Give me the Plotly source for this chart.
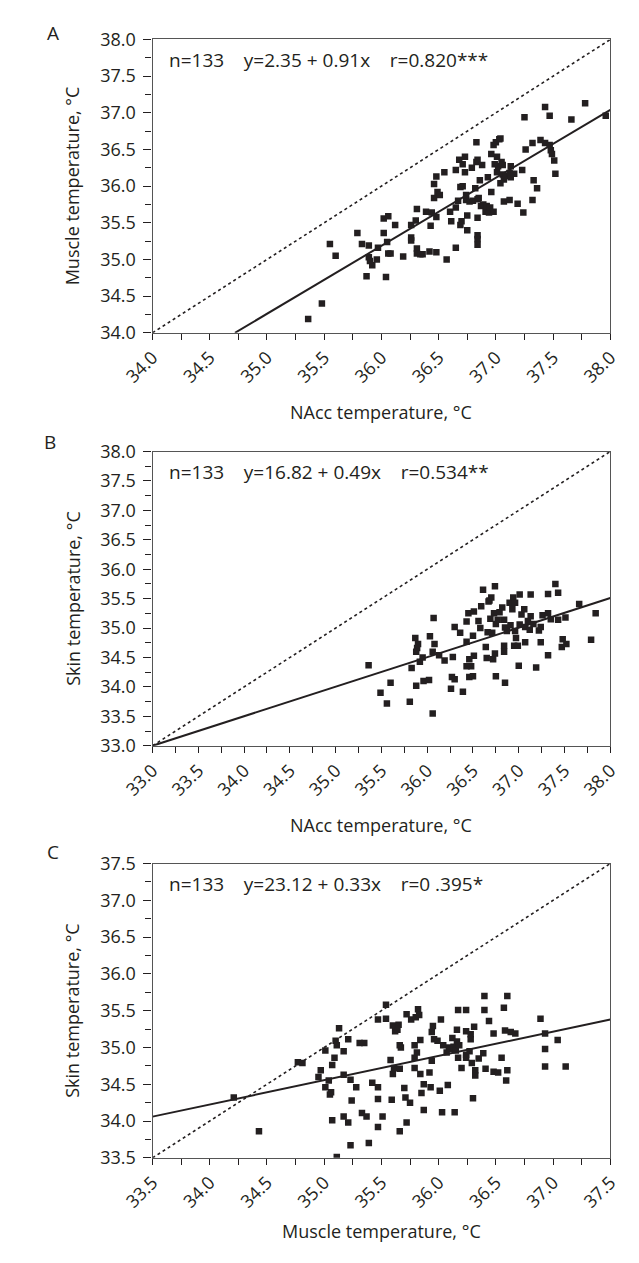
import plotly.graph_objects as go

W, H = 639, 1263
FONT = "Open Sans"
INK = "#231f20"

# ---------------- Panel A : NAcc vs muscle temperature ----------------
a_nacc = [35.36, 35.48, 35.55, 35.60, 35.79, 35.83, 35.89, 35.87, 35.89, 35.90,
          35.92, 35.96, 35.97, 36.02, 36.02, 36.06, 36.05, 36.04, 36.06, 36.08,
          36.12, 36.19, 36.26, 36.26, 36.26, 36.30, 36.31, 36.31, 36.31, 36.34,
          36.36, 36.39, 36.42, 36.43, 36.44, 36.46, 36.46, 36.48, 36.48, 36.48,
          36.49, 36.51, 36.55, 36.57, 36.60, 36.61, 36.65, 36.65, 36.65, 36.67,
          36.68, 36.69, 36.69, 36.70, 36.71, 36.71, 36.73, 36.73, 36.74, 36.74,
          36.75, 36.75, 36.77, 36.79, 36.80, 36.82, 36.83, 36.83, 36.84, 36.84,
          36.84, 36.84, 36.84, 36.84, 36.85, 36.86, 36.87, 36.88, 36.89, 36.91,
          36.92, 36.93, 36.94, 36.95, 36.96, 36.96, 36.98, 36.98, 36.99, 37.00,
          37.01, 37.01, 37.02, 37.03, 37.04, 37.04, 37.05, 37.06, 37.06, 37.07,
          37.07, 37.09, 37.12, 37.12, 37.13, 37.13, 37.16, 37.19, 37.23, 37.24,
          37.25, 37.26, 37.32, 37.32, 37.33, 37.36, 37.39, 37.43, 37.43, 37.47,
          37.47, 37.48, 37.49, 37.51, 37.52, 37.66, 37.78, 37.96]
a_muscle = [34.19, 34.40, 35.21, 35.05, 35.36, 35.21, 35.19, 34.77, 35.03, 34.98,
            34.92, 35.00, 35.16, 35.36, 35.56, 35.59, 35.24, 34.76, 35.08, 35.08,
            35.47, 35.04, 35.47, 35.30, 35.26, 35.53, 35.69, 35.15, 35.08, 35.07,
            35.07, 35.65, 35.11, 35.46, 35.64, 36.03, 35.84, 35.58, 35.10, 36.13,
            35.92, 35.88, 36.19, 35.00, 35.65, 35.52, 35.16, 36.22, 35.71, 35.80,
            36.36, 35.99, 35.47, 35.52, 36.30, 36.00, 36.40, 36.19, 35.81, 35.88,
            35.60, 35.40, 35.79, 36.25, 35.80, 35.97, 36.60, 36.33, 36.36, 35.82,
            35.57, 35.28, 35.20, 35.33, 35.84, 36.08, 35.73, 36.29, 35.75, 35.65,
            35.73, 36.12, 35.64, 35.71, 36.44, 35.92, 35.65, 36.56, 36.30, 36.60,
            36.40, 36.19, 36.27, 36.64, 36.65, 36.04, 36.33, 36.16, 36.29, 36.09,
            35.79, 36.14, 36.18, 35.81, 36.27, 36.12, 36.17, 35.76, 36.22, 35.64,
            36.94, 36.50, 35.81, 36.59, 36.08, 35.97, 36.63, 36.59, 37.08, 36.96,
            36.56, 36.49, 36.44, 36.35, 36.17, 36.91, 37.13, 36.96]
a_fit_x = [34.72, 38.0]
a_fit_y = [34.0, 37.04]
a_range = [34.0, 38.0]
a_stats = "n=133    y=2.35 + 0.91x    r=0.820***"
a_xtitle = "NAcc temperature, °C"
a_ytitle = "Muscle temperature, °C"

# ---------------- Panel B : NAcc vs skin temperature ----------------
b_nacc = [35.36, 35.49, 35.56, 35.60, 35.81, 35.83, 35.87, 35.90, 35.89, 35.88,
          35.92, 35.95, 35.88, 35.96, 36.02, 36.03, 36.06, 36.07, 36.08, 36.06,
          36.13, 36.19, 36.27, 36.28, 36.30, 36.26, 36.30, 36.36, 36.39, 36.43,
          36.43, 36.45, 36.46, 36.48, 36.51, 36.43, 36.46, 36.51, 36.50, 36.50,
          36.56, 36.58, 36.59, 36.61, 36.65, 36.64, 36.66, 36.67, 36.68, 36.70,
          36.69, 36.71, 36.72, 36.73, 36.74, 36.75, 36.74, 36.75, 36.77, 36.79,
          36.82, 36.84, 36.85, 36.84, 36.84, 36.85, 36.87, 36.90, 36.91, 36.93,
          36.94, 36.96, 36.95, 36.96, 36.97, 36.99, 37.00, 37.01, 37.01, 37.03,
          37.06, 37.07, 37.07, 37.10, 37.12, 37.13, 37.13, 37.16, 37.19, 37.22,
          37.24, 37.24, 37.26, 37.32, 37.32, 37.32, 37.35, 37.40, 37.43, 37.43,
          37.47, 37.48, 37.51, 37.52, 37.66, 37.79, 37.84]
b_skin = [34.37, 33.90, 33.72, 34.07, 33.75, 34.32, 34.83, 34.73, 34.66, 34.60,
          34.43, 34.50, 34.02, 34.10, 34.12, 34.86, 34.60, 35.17, 34.73, 33.55,
          34.54, 34.45, 34.17, 34.51, 34.13, 33.97, 35.02, 34.92, 33.92, 35.11,
          34.77, 35.25, 34.17, 34.35, 34.53, 34.35, 34.47, 35.28, 34.18, 34.87,
          35.12, 35.00, 35.37, 35.65, 34.49, 34.68, 34.93, 35.45, 35.47, 35.52,
          35.16, 34.92, 34.47, 35.25, 35.71, 34.18, 34.57, 35.07, 35.14, 35.27,
          35.35, 35.14, 34.07, 34.70, 34.60, 35.01, 34.95, 35.43, 35.05, 35.32,
          35.52, 35.43, 34.70, 34.95, 34.83, 34.70, 34.36, 35.57, 35.06, 35.23,
          35.32, 35.02, 34.76, 35.12, 34.97, 35.57, 35.20, 35.07, 34.33, 34.96,
          34.76, 35.02, 35.22, 35.58, 34.54, 35.25, 35.15, 35.75, 35.60, 35.14,
          34.68, 34.81, 35.18, 34.73, 35.41, 34.80, 35.25]
b_fit_x = [33.0, 38.0]
b_fit_y = [33.0, 35.51]
b_range = [33.0, 38.0]
b_stats = "n=133    y=16.82 + 0.49x    r=0.534**"
b_xtitle = "NAcc temperature, °C"
b_ytitle = "Skin temperature, °C"

# ---------------- Panel C : muscle vs skin temperature ----------------
c_muscle = [34.21, 34.43, 34.77, 34.81, 34.95, 34.97, 35.01, 35.01, 35.04, 35.05,
            35.06, 35.07, 35.07, 35.09, 35.10, 35.11, 35.11, 35.13, 35.17, 35.17,
            35.17, 35.21, 35.21, 35.23, 35.24, 35.23, 35.28, 35.31, 35.35, 35.33,
            35.37, 35.39, 35.42, 35.47, 35.47, 35.47, 35.47, 35.51, 35.54, 35.54,
            35.58, 35.59, 35.60, 35.60, 35.61, 35.62, 35.64, 35.65, 35.66, 35.66,
            35.67, 35.66, 35.70, 35.71, 35.72, 35.72, 35.75, 35.76, 35.79, 35.79,
            35.79, 35.80, 35.81, 35.82, 35.83, 35.84, 35.84, 35.85, 35.87, 35.87,
            35.92, 35.93, 35.94, 35.94, 35.95, 35.96, 35.99, 36.01, 36.02, 36.03,
            36.04, 36.07, 36.08, 36.09, 36.10, 36.12, 36.13, 36.14, 36.15, 36.16,
            36.16, 36.17, 36.17, 36.18, 36.20, 36.24, 36.24, 36.24, 36.24, 36.27,
            36.28, 36.28, 36.29, 36.30, 36.31, 36.32, 36.32, 36.35, 36.39, 36.40,
            36.40, 36.41, 36.44, 36.48, 36.48, 36.52, 36.55, 36.57, 36.58, 36.59,
            36.60, 36.60, 36.63, 36.67, 36.89, 36.93, 36.93, 36.93, 37.04, 37.11]
c_skin = [34.32, 33.86, 34.80, 34.79, 34.60, 34.69, 34.96, 34.46, 34.55, 34.36,
          34.39, 34.76, 34.01, 34.86, 35.09, 35.03, 33.51, 35.26, 34.95, 34.63,
          34.06, 33.98, 35.11, 34.56, 34.28, 33.67, 34.46, 35.06, 35.06, 34.11,
          34.06, 33.70, 34.52, 35.38, 34.46, 34.30, 33.92, 34.06, 35.39, 35.58,
          34.83, 34.29, 34.64, 35.30, 34.72, 35.22, 35.24, 35.31, 34.71, 35.03,
          35.00, 33.86, 34.45, 34.32, 35.45, 33.98, 34.25, 35.38, 34.86, 34.72,
          35.03, 35.41, 34.93, 35.52, 35.44, 35.10, 34.64, 34.38, 34.15, 34.50,
          34.66, 34.46, 34.82, 35.21, 35.29, 35.11, 35.09, 34.41, 35.38, 34.12,
          35.03, 34.93, 34.49, 35.00, 34.98, 35.13, 35.01, 34.12, 34.96, 35.24,
          35.08, 35.51, 34.86, 35.03, 34.72, 35.51, 35.22, 34.90, 34.86, 34.95,
          35.18, 35.11, 34.79, 34.31, 35.28, 34.69, 34.62, 34.85, 34.92, 35.70,
          35.51, 34.71, 35.36, 35.19, 34.67, 34.66, 34.86, 35.54, 35.23, 34.55,
          34.69, 35.70, 35.21, 35.19, 35.39, 35.19, 34.98, 34.74, 35.10, 34.74]
c_fit_x = [33.5, 37.5]
c_fit_y = [34.06, 35.38]
c_range = [33.5, 37.5]
c_stats = "n=133    y=23.12 + 0.33x    r=0 .395*"
c_xtitle = "Muscle temperature, °C"
c_ytitle = "Skin temperature, °C"

panel_letters = ["A", "B", "C"]

# ---------------- layout helpers (pixel geometry) ----------------
def px(x):
    return x / W

def py(y):
    return 1 - y / H

PLOT_L, PLOT_R = 129, 619
panel_tops = [27, 447, 867]
panel_bots = [326, 747, 1167]
xtitle_y = [407, 828, 1242]
letter_pos = [(22, 20), (19, 437), (22, 855)]

panels = [
    dict(x=a_nacc, y=a_muscle, fx=a_fit_x, fy=a_fit_y, rng=a_range,
         stats=a_stats, xt=a_xtitle, yt=a_ytitle),
    dict(x=b_nacc, y=b_skin, fx=b_fit_x, fy=b_fit_y, rng=b_range,
         stats=b_stats, xt=b_xtitle, yt=b_ytitle),
    dict(x=c_muscle, y=c_skin, fx=c_fit_x, fy=c_fit_y, rng=c_range,
         stats=c_stats, xt=c_xtitle, yt=c_ytitle),
]

fig = go.Figure()
annotations = []
layout_axes = {}
NB = "\u00a0"

for i, p in enumerate(panels):
    n = "" if i == 0 else str(i + 1)
    xa, ya = "x" + n, "y" + n
    # identity line
    fig.add_trace(go.Scatter(x=p["rng"], y=p["rng"], mode="lines", xaxis=xa, yaxis=ya,
                             line=dict(color=INK, width=1.6, dash="dot"),
                             hoverinfo="skip", showlegend=False))
    # regression line
    fig.add_trace(go.Scatter(x=p["fx"], y=p["fy"], mode="lines", xaxis=xa, yaxis=ya,
                             line=dict(color=INK, width=2),
                             hoverinfo="skip", showlegend=False))
    # points
    fig.add_trace(go.Scatter(x=p["x"], y=p["y"], mode="markers", xaxis=xa, yaxis=ya,
                             marker=dict(symbol="square", size=6.5, color=INK,
                                         line=dict(width=0)),
                             showlegend=False))

    common = dict(range=p["rng"], tick0=p["rng"][0], dtick=0.5, tickformat=".1f",
                  ticks="outside", tickwidth=1.2, tickcolor=INK,
                  showline=True, linecolor="#555555", linewidth=1.3, mirror=True,
                  showgrid=False, zeroline=False,
                  tickfont=dict(family=FONT, size=18, color=INK))
    layout_axes["xaxis" + n] = dict(
        common, domain=[px(PLOT_L), px(PLOT_R)], anchor=ya, tickangle=-45, ticklen=6,
        minor=dict(dtick=0.25, tick0=p["rng"][0], ticks="outside", ticklen=6,
                   tickwidth=1.2, tickcolor=INK, showgrid=False))
    layout_axes["yaxis" + n] = dict(
        common, domain=[py(panel_bots[i]), py(panel_tops[i])], anchor=xa, ticklen=8,
        ticklabelstandoff=4,
        minor=dict(dtick=0.25, tick0=p["rng"][0], ticks="outside", ticklen=6,
                   tickwidth=1.2, tickcolor=INK, showgrid=False))

    lx, ly = letter_pos[i]
    annotations.append(dict(text=panel_letters[i], x=px(lx), y=py(ly), xref="paper",
                            yref="paper", showarrow=False, xanchor="center",
                            yanchor="middle", font=dict(family=FONT, size=19, color=INK)))
    annotations.append(dict(text=p["stats"].replace(" ", NB), x=px(145),
                            y=py(panel_tops[i] + 21), xref="paper", yref="paper",
                            showarrow=False, xanchor="left", yanchor="middle",
                            font=dict(family=FONT, size=19, color=INK)))
    annotations.append(dict(text=p["xt"], x=px((PLOT_L + PLOT_R) / 2), y=py(xtitle_y[i]),
                            xref="paper", yref="paper", showarrow=False,
                            xanchor="center", yanchor="middle",
                            font=dict(family=FONT, size=18, color=INK)))
    annotations.append(dict(text=p["yt"], x=px(43),
                            y=py((panel_tops[i] + panel_bots[i]) / 2),
                            xref="paper", yref="paper", showarrow=False, textangle=-90,
                            xanchor="center", yanchor="middle",
                            font=dict(family=FONT, size=18, color=INK)))

fig.update_layout(width=W, height=H, autosize=False,
                  margin=dict(l=0, r=0, t=0, b=0),
                  paper_bgcolor="white", plot_bgcolor="white",
                  annotations=annotations, **layout_axes)

fig.write_html("out.html")
